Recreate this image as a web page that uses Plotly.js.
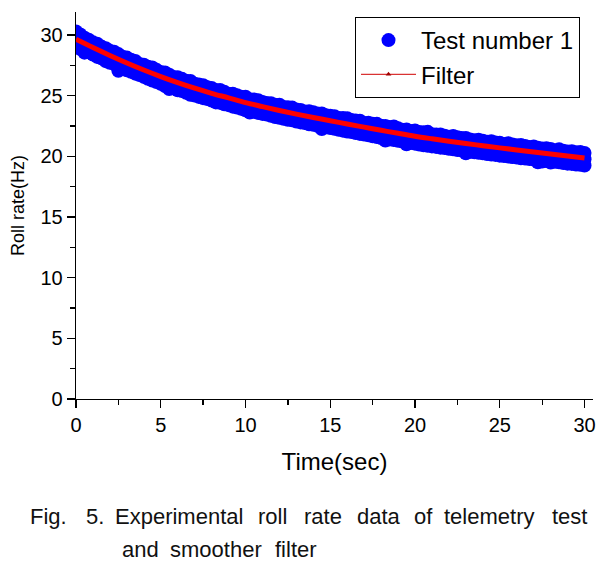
<!DOCTYPE html>
<html>
<head>
<meta charset="utf-8">
<script src="https://cdn.plot.ly/plotly-3.0.1.min.js"></script>
<style>
html,body{margin:0;padding:0;background:#fff;}
#chart{width:615px;height:569px;}
</style>
</head>
<body>
<div id="chart"></div>
<script>
// ---- data ----
const timeS = [0,0.25,0.5,0.75,1,1.25,1.5,1.75,2,2.25,2.5,2.75,3,3.25,3.5,3.75,4,4.25,4.5,4.75,
5,5.25,5.5,5.75,6,6.25,6.5,6.75,7,7.25,7.5,7.75,8,8.25,8.5,8.75,9,9.25,9.5,9.75,
10,10.25,10.5,10.75,11,11.25,11.5,11.75,12,12.25,12.5,12.75,13,13.25,13.5,13.75,14,14.25,14.5,14.75,
15,15.25,15.5,15.75,16,16.25,16.5,16.75,17,17.25,17.5,17.75,18,18.25,18.5,18.75,19,19.25,19.5,19.75,
20,20.25,20.5,20.75,21,21.25,21.5,21.75,22,22.25,22.5,22.75,23,23.25,23.5,23.75,24,24.25,24.5,24.75,
25,25.25,25.5,25.75,26,26.25,26.5,26.75,27,27.25,27.5,27.75,28,28.25,28.5,28.75,29,29.25,29.5,29.75,30];

const rollHigh = [30.30,30.05,29.78,29.62,29.40,29.28,29.05,28.92,28.70,28.63,28.43,28.22,28.14,27.96,27.87,27.62,27.55,27.38,27.33,27.13,
26.95,26.91,26.73,26.55,26.52,26.39,26.23,26.21,25.98,25.93,25.86,25.70,25.63,25.48,25.47,25.32,25.17,25.16,25.04,24.91,
24.91,24.71,24.69,24.63,24.49,24.39,24.38,24.26,24.25,24.06,24.05,24.02,23.86,23.82,23.70,23.72,23.63,23.53,23.54,23.38,
23.34,23.31,23.17,23.16,23.15,22.99,22.95,22.93,22.76,22.78,22.68,22.68,22.52,22.51,22.42,22.46,22.31,22.20,22.22,22.10,
22.13,22.01,21.99,22.02,21.82,21.81,21.80,21.69,21.61,21.68,21.58,21.51,21.52,21.40,21.32,21.37,21.29,21.21,21.24,21.14,
21.13,21.02,21.09,20.97,20.91,20.93,20.86,20.77,20.81,20.71,20.65,20.67,20.61,20.50,20.58,20.46,20.40,20.42,20.33,20.35,20.28];

const rollMid = [29.55,29.40,29.20,29.03,28.88,28.70,28.55,28.38,28.22,28.05,27.90,27.75,27.58,27.45,27.30,27.16,27.00,26.88,26.74,26.60,
26.47,26.35,26.22,26.10,25.97,25.86,25.75,25.62,25.52,25.40,25.30,25.20,25.08,25.00,24.90,24.80,24.72,24.60,24.52,24.42,
24.32,24.24,24.15,24.07,23.98,23.90,23.82,23.75,23.66,23.60,23.52,23.45,23.37,23.30,23.22,23.16,23.08,23.02,22.96,22.90,
22.83,22.76,22.70,22.62,22.56,22.50,22.43,22.37,22.30,22.24,22.17,22.10,22.04,21.98,21.92,21.85,21.78,21.73,21.67,21.61,
21.55,21.50,21.45,21.39,21.34,21.29,21.24,21.19,21.14,21.09,21.05,21.00,20.95,20.91,20.86,20.82,20.77,20.73,20.68,20.64,
20.59,20.55,20.51,20.46,20.42,20.38,20.34,20.29,20.25,20.21,20.17,20.12,20.08,20.04,20.00,19.96,19.92,19.88,19.84,19.80,19.76];

const rollLow = [29.10,28.85,28.55,28.58,28.40,28.20,28.08,27.85,27.72,27.60,27.05,27.28,27.10,26.98,26.82,26.70,26.55,26.40,26.25,26.12,
25.98,25.80,25.55,25.62,25.45,25.38,25.25,25.08,25.02,24.90,24.80,24.72,24.60,24.45,24.42,24.30,24.22,24.10,24.02,23.92,
23.80,23.62,23.68,23.58,23.50,23.45,23.35,23.25,23.18,23.10,23.02,22.98,22.88,22.80,22.75,22.65,22.60,22.52,22.25,22.40,
22.33,22.28,22.20,22.12,22.05,22.00,21.92,21.85,21.80,21.74,21.66,21.60,21.52,21.30,21.40,21.35,21.28,21.22,21.00,21.10,
21.05,20.98,20.92,20.88,20.82,20.78,20.72,20.68,20.62,20.58,20.52,20.48,20.25,20.38,20.33,20.30,20.25,20.20,20.15,20.12,
20.06,20.02,19.98,19.94,19.90,19.85,19.82,19.78,19.74,19.52,19.58,19.62,19.50,19.55,19.52,19.45,19.40,19.38,19.32,19.30,19.25];

const filterT = [0,1,2,3,4,5,6,7,8,9,10,11,12,13,14,15,16,17,18,19,20,21,22,23,24,25,26,27,28,29,30];
const filterY = [29.65,28.97,28.32,27.70,27.12,26.58,26.08,25.62,25.20,24.82,24.43,24.10,23.78,23.48,23.20,22.94,
22.67,22.41,22.15,21.90,21.66,21.45,21.25,21.06,20.88,20.70,20.53,20.36,20.19,20.03,19.87];

const xTicks = [0,5,10,15,20,25,30];
const yTicks = [0,5,10,15,20,25,30];
const seriesNames = ["Test number 1", "Filter"];
const captionLine1 = ["Fig.","5.","Experimental","roll","rate","data","of","telemetry","test"];
const captionLine2 = ["and","smoother","filter"];

// ---- layout helpers (pixel positions of the caption words) ----
const L = 76, R = 22, T = 12, B = 170, W = 615, H = 569;
const pw = W - L - R, ph = H - T - B;
const px2x = p => (p - L) / pw;
const py2y = p => (H - B - p) / ph;
const cap1X = [28, 84, 113, 256, 302, 355, 412, 442, 550];
const cap2X = [120, 168, 273];

const FONT = "Liberation Sans, Arial, sans-serif";

const traces = [
  {
    x: timeS.concat(timeS, timeS),
    y: rollHigh.concat(rollMid, rollLow),
    type: "scatter", mode: "markers", name: seriesNames[0],
    marker: {color: "#0000ff", size: 14, line: {width: 0}}
  },
  {
    x: filterT, y: filterY, type: "scatter", mode: "lines", name: seriesNames[1],
    line: {color: "#ff0000", width: 5, shape: "spline"}, showlegend: false
  },
  {
    x: [null], y: [null], type: "scatter", mode: "lines+markers", name: seriesNames[1],
    line: {color: "#d00000", width: 1}, marker: {symbol: "triangle-up", size: 5, color: "#a00000"}
  }
];

const annotations = [];
captionLine1.forEach((w, i) => annotations.push({
  text: w, xref: "paper", yref: "paper", x: px2x(cap1X[i]), y: py2y(516),
  xanchor: "left", yanchor: "middle", showarrow: false,
  font: {family: FONT, size: 22, color: "#111"}
}));
captionLine2.forEach((w, i) => annotations.push({
  text: w, xref: "paper", yref: "paper", x: px2x(cap2X[i]), y: py2y(549),
  xanchor: "left", yanchor: "middle", showarrow: false,
  font: {family: FONT, size: 22, color: "#111"}
}));

const axisCommon = {
  showline: true, linecolor: "#000", linewidth: 1.3, mirror: false,
  showgrid: false, zeroline: false,
  ticks: "outside", ticklen: 8, tickwidth: 1.3, tickcolor: "#000",
  tickfont: {family: FONT, size: 20, color: "#000"},
  minor: {dtick: 2.5, ticks: "outside", ticklen: 5, tickwidth: 1.3, tickcolor: "#000", showgrid: false}
};

const layout = {
  width: W, height: H,
  margin: {l: L, r: R, t: T, b: B},
  paper_bgcolor: "#fff", plot_bgcolor: "#fff",
  showlegend: true,
  legend: {
    x: px2x(355), y: py2y(17), xanchor: "left", yanchor: "top",
    bordercolor: "#000", borderwidth: 1, bgcolor: "#fff",
    font: {family: FONT, size: 24, color: "#000"}, itemwidth: 55,
    tracegroupgap: 0
  },
  xaxis: Object.assign({}, axisCommon, {
    range: [0, 30.5], tickvals: xTicks,
    title: {text: "Time(sec)", font: {family: FONT, size: 24, color: "#000"}, standoff: 18}
  }),
  yaxis: Object.assign({}, axisCommon, {
    range: [0, 31.9], tickvals: yTicks,
    title: {text: "Roll rate(Hz)", font: {family: FONT, size: 18, color: "#000"}, standoff: 11}
  }),
  annotations: annotations
};

Plotly.newPlot("chart", traces, layout, {staticPlot: true, displayModeBar: false});
</script>
</body>
</html>
